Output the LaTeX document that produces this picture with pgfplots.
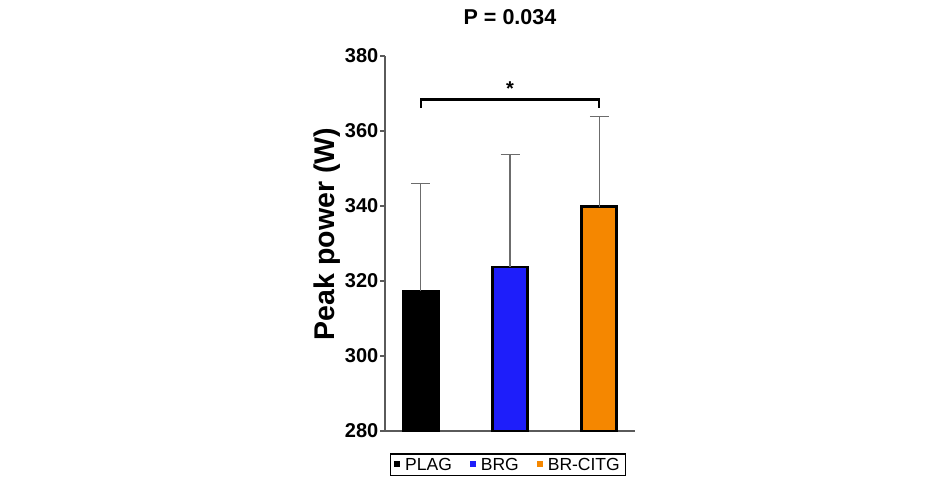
\documentclass[border=0pt]{standalone}
\usepackage{fontspec}
\setmainfont{Liberation Sans}
\usepackage{pgfplots}
\pgfplotsset{compat=1.18}
\definecolor{barblue}{RGB}{30,30,250}
\definecolor{barorange}{RGB}{245,135,0}
\definecolor{axisgray}{RGB}{90,90,90}
\begin{document}
\begin{tikzpicture}[x=1pt,y=1pt]
\path[use as bounding box] (0,0) rectangle (940,480);
\begin{axis}[
  at={(385pt,49pt)}, anchor=south west,
  scale only axis, width=250pt, height=375pt,
  xmin=-0.4, xmax=2.4, ymin=280, ymax=380,
  axis x line*=bottom, axis y line*=left,
  axis line style={draw=axisgray, line width=1.4pt},
  xtick=\empty,
  ytick={280,300,...,380},
  tick align=outside, major tick length=5pt,
  tick style={draw=axisgray, line width=1.2pt},
  /pgf/number format/assume math mode=true,
  yticklabel style={font=\bfseries\fontsize{20}{20}\selectfont, inner sep=1.5pt},
  ybar, bar width=35pt, bar shift=0pt,
  every axis plot/.append style={draw=black, line width=2.6pt},
  error bars/y dir=plus, error bars/y explicit,
  error bars/error bar style={draw=gray!85!black, line width=1.3pt},
  error bars/error mark options={draw=gray!85!black, line width=1.3pt, mark size=9.5pt, rotate=90},
  legend columns=3,
  legend style={at={(0.492,-0.0899)}, anchor=center, draw=black, line width=1.3pt,
    font=\fontsize{17.5}{17.5}\selectfont, inner xsep=3.5pt, inner ysep=2pt,
    /tikz/every even column/.append style={column sep=16pt}},
  legend image code/.code={\fill[#1, draw=none] (0pt,-2.5pt) rectangle (6pt,3.5pt); \path[draw=none, fill=none] (0pt,0pt) -- (9pt,0pt);},
  clip=false,
]
\addplot[fill=black] coordinates {(0,317.3) +- (0,28.7)};
\addplot[fill=barblue] coordinates {(1,323.7) +- (0,30.1)};
\addplot[fill=barorange] coordinates {(2,339.8) +- (0,24.0)};
\legend{PLAG,BRG,BR-CITG}
\draw[black, line width=2.4pt] (axis cs:0,366.1) -- (axis cs:0,368.4) -- (axis cs:2,368.4) -- (axis cs:2,366.1);
\node[font=\bfseries\fontsize{20}{20}\selectfont] at (axis cs:1,371.4) {*};
\end{axis}
\node[font=\bfseries\fontsize{21.5}{21.5}\selectfont] at (510,462.5) {P = 0.034};
\node[rotate=90, font=\bfseries\fontsize{28.5}{28.5}\selectfont] at (327.5,246) {Peak power (W)};
\end{tikzpicture}
\end{document}
